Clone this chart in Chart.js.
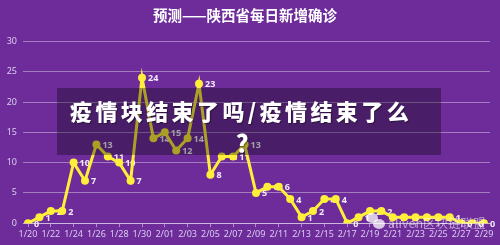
<!DOCTYPE html>
<html>
<head>
<meta charset="utf-8">
<script src="https://cdn.jsdelivr.net/npm/chart.js@4/dist/chart.umd.min.js"></script>
<style>
  html, body { margin: 0; padding: 0; }
  body { width: 500px; height: 245px; background: #6d2c9a; overflow: hidden; position: relative; }
  #wrap { position: absolute; left: 0; top: 0; width: 500px; height: 245px; }
  #banner {
    position: absolute; left: 57px; top: 88px; width: 384px; height: 67px;
    background: rgba(0, 0, 0, 0.33);
  }
  .bigtxt {
    position: absolute; color: #fff; font-family: "Noto Sans CJK SC", sans-serif;
    font-weight: 900; font-size: 22px; letter-spacing: 3.4px; white-space: nowrap;
    text-shadow: 1px 1px 1px rgba(0,0,0,0.4);
  }
  #wm {
    position: absolute; left: 388px; top: 213px; color: rgba(255,255,255,0.55);
    font-family: "Noto Sans CJK SC", sans-serif; font-size: 12.5px; white-space: nowrap;
  }
  .dot { position: absolute; border-radius: 50%; background: rgba(255,255,255,0.75); }
</style>
</head>
<body>
<div id="wrap"><canvas id="chart" width="500" height="245"></canvas></div>
<div class="dot" style="left:366px;top:213px;width:12px;height:10px;"></div>
<div class="dot" style="left:373px;top:219px;width:12px;height:10px;"></div>
<div id="wm">aliveh区块链联盟</div>
<div id="banner"></div>
<div class="bigtxt" style="left:70px;top:94px;">疫情块结束了吗/疫情结束了么</div>
<div class="bigtxt" style="left:236px;top:124px;font-size:24px;">？</div>
<script>
// 日期（x 轴）
const dates = [
  '1/20', '1/21', '1/22', '1/23', '1/24', '1/25', '1/26', '1/27', '1/28', '1/29', '1/30', '1/31',
  '2/01', '2/02', '2/03', '2/04', '2/05', '2/06', '2/07', '2/08', '2/09', '2/10', '2/11', '2/12',
  '2/13', '2/14', '2/15', '2/16', '2/17', '2/18', '2/19', '2/20', '2/21', '2/22', '2/23', '2/24',
  '2/25', '2/26', '2/27', '2/28', '2/29'
];

// 每日新增确诊（预测）
const newCases = [
  0, 1, 2, 2, 10, 7, 13, 11, 10, 7, 24, 14,
  15, 12, 14, 23, 8, 11, 11, 13, 5, 6, 6, 4,
  1, 2, 4, 4, 0, 1, 2, 2, 1, 1, 1, 1,
  1, 1, 0, 0, 0
];

const yTicks = [0, 5, 10, 15, 20, 25, 30];

// 数据标签：画在折线下面，所以被点/线压住的会看不见
const valueLabels = {
  id: 'valueLabels',
  beforeDatasetsDraw(chart) {
    const ctx = chart.ctx;
    const meta = chart.getDatasetMeta(0);
    ctx.save();
    ctx.font = 'bold 9px "Noto Sans", sans-serif';
    ctx.fillStyle = '#f3ecfa';
    ctx.textAlign = 'left';
    ctx.textBaseline = 'middle';
    meta.data.forEach((pt, i) => {
      ctx.fillText(String(newCases[i]), pt.x + 6, pt.y + 1);
    });
    ctx.restore();
  }
};

new Chart(document.getElementById('chart'), {
  type: 'line',
  data: {
    datasets: [{
      label: '每日新增确诊',
      data: newCases.map((v, i) => ({ x: i, y: v })),
      borderColor: '#ffef3a',
      backgroundColor: '#ffef3a',
      borderWidth: 3,
      pointRadius: 4,
      pointBorderWidth: 0,
      pointBackgroundColor: '#ffef3a',
      tension: 0
    }]
  },
  options: {
    animation: false,
    responsive: false,
    layout: { padding: { left: 0, right: 10, top: 0, bottom: 3 } },
    plugins: {
      legend: { display: false },
      tooltip: { enabled: false },
      title: {
        display: true,
        text: '预测——陕西省每日新增确诊',
        color: '#ffffff',
        font: { family: '"Noto Sans CJK SC", sans-serif', size: 14.5, weight: 'bold' },
        padding: { top: 7, bottom: 17 }
      }
    },
    scales: {
      x: {
        type: 'linear',
        min: -0.44,
        max: 40.53,
        afterBuildTicks(scale) {
          scale.ticks = dates.map((d, i) => ({ value: i })).filter(t => t.value % 2 === 0);
        },
        ticks: {
          callback: (v) => dates[v],
          color: '#dccdf0',
          font: { family: '"Noto Sans", sans-serif', size: 9 },
          maxRotation: 0,
          autoSkip: false,
          padding: 2
        },
        grid: { drawOnChartArea: false, color: 'rgba(255,255,255,0.45)', tickLength: 4 },
        border: { display: true, color: 'rgba(255,255,255,0.45)', width: 1 }
      },
      y: {
        min: 0,
        max: 30,
        afterBuildTicks(scale) {
          scale.ticks = yTicks.map(v => ({ value: v }));
        },
        afterFit(scale) { scale.width = 23; },
        ticks: {
          color: '#dccdf0',
          font: { family: '"Noto Sans", sans-serif', size: 9 },
          padding: 6
        },
        grid: { color: 'rgba(255,255,255,0.38)', drawTicks: false },
        border: { display: false }
      }
    }
  },
  plugins: [valueLabels]
});
</script>
</body>
</html>
